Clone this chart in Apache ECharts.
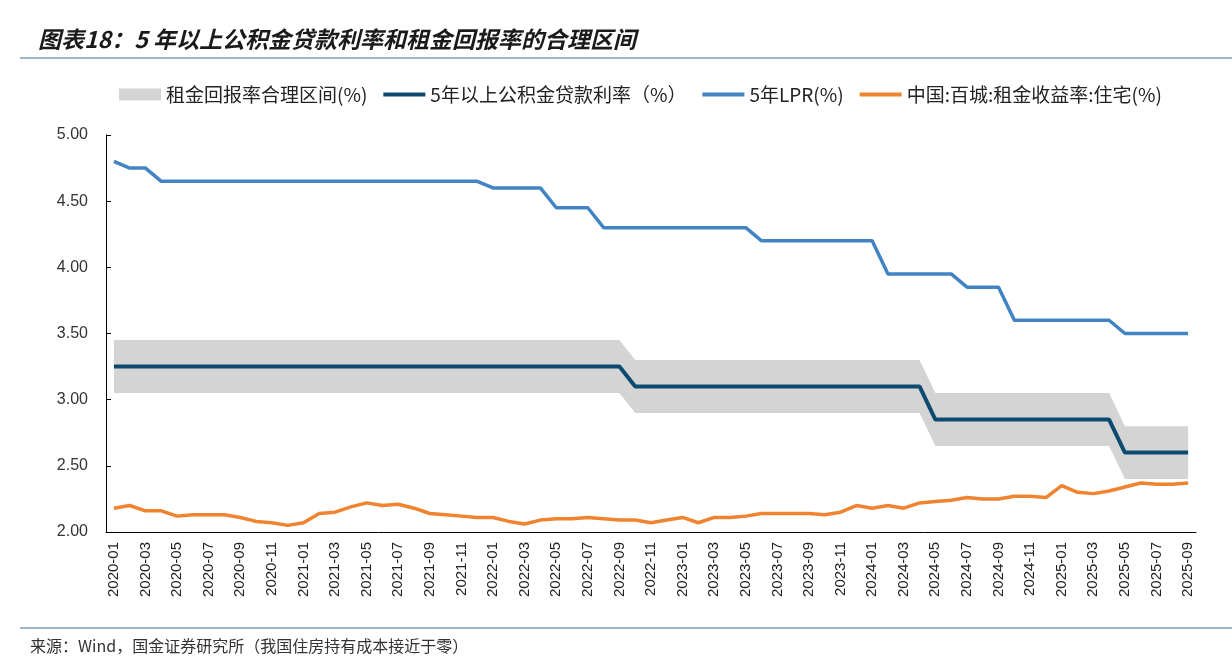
<!DOCTYPE html>
<html>
<head>
<meta charset="utf-8">
<script src="https://cdn.jsdelivr.net/npm/echarts@6/dist/echarts.min.js"></script>
<style>
html,body{margin:0;padding:0;background:#fff;}
#c{width:1232px;height:663px;}
</style>
</head>
<body>
<div id="c"></div>
<script>
const months = [];
for (let y = 2020; y <= 2025; y++) {
  for (let m = 1; m <= 12; m++) {
    if (y === 2025 && m > 9) break;
    months.push(y + '-' + (m < 10 ? '0' + m : m));
  }
}

const lpr5y = [
  4.80,4.75,4.75,4.65,4.65,4.65,4.65,4.65,4.65,4.65,4.65,4.65,
  4.65,4.65,4.65,4.65,4.65,4.65,4.65,4.65,4.65,4.65,4.65,4.65,
  4.60,4.60,4.60,4.60,4.45,4.45,4.45,4.30,4.30,4.30,4.30,4.30,
  4.30,4.30,4.30,4.30,4.30,4.20,4.20,4.20,4.20,4.20,4.20,4.20,
  4.20,3.95,3.95,3.95,3.95,3.95,3.85,3.85,3.85,3.60,3.60,3.60,
  3.60,3.60,3.60,3.60,3.50,3.50,3.50,3.50,3.50
];

const fundRate = [
  3.25,3.25,3.25,3.25,3.25,3.25,3.25,3.25,3.25,3.25,3.25,3.25,
  3.25,3.25,3.25,3.25,3.25,3.25,3.25,3.25,3.25,3.25,3.25,3.25,
  3.25,3.25,3.25,3.25,3.25,3.25,3.25,3.25,3.25,3.10,3.10,3.10,
  3.10,3.10,3.10,3.10,3.10,3.10,3.10,3.10,3.10,3.10,3.10,3.10,
  3.10,3.10,3.10,3.10,2.85,2.85,2.85,2.85,2.85,2.85,2.85,2.85,
  2.85,2.85,2.85,2.85,2.60,2.60,2.60,2.60,2.60
];

const bandLower = [
  3.05,3.05,3.05,3.05,3.05,3.05,3.05,3.05,3.05,3.05,3.05,3.05,
  3.05,3.05,3.05,3.05,3.05,3.05,3.05,3.05,3.05,3.05,3.05,3.05,
  3.05,3.05,3.05,3.05,3.05,3.05,3.05,3.05,3.05,2.90,2.90,2.90,
  2.90,2.90,2.90,2.90,2.90,2.90,2.90,2.90,2.90,2.90,2.90,2.90,
  2.90,2.90,2.90,2.90,2.65,2.65,2.65,2.65,2.65,2.65,2.65,2.65,
  2.65,2.65,2.65,2.65,2.40,2.40,2.40,2.40,2.40
];

const bandUpper = [
  3.45,3.45,3.45,3.45,3.45,3.45,3.45,3.45,3.45,3.45,3.45,3.45,
  3.45,3.45,3.45,3.45,3.45,3.45,3.45,3.45,3.45,3.45,3.45,3.45,
  3.45,3.45,3.45,3.45,3.45,3.45,3.45,3.45,3.45,3.30,3.30,3.30,
  3.30,3.30,3.30,3.30,3.30,3.30,3.30,3.30,3.30,3.30,3.30,3.30,
  3.30,3.30,3.30,3.30,3.05,3.05,3.05,3.05,3.05,3.05,3.05,3.05,
  3.05,3.05,3.05,3.05,2.80,2.80,2.80,2.80,2.80
];

const rentYield = [
  2.18,2.20,2.16,2.16,2.12,2.13,2.13,2.13,2.11,2.08,2.07,2.05,
  2.07,2.14,2.15,2.19,2.22,2.20,2.21,2.18,2.14,2.13,2.12,2.11,
  2.11,2.08,2.06,2.09,2.10,2.10,2.11,2.10,2.09,2.09,2.07,2.09,
  2.11,2.07,2.11,2.11,2.12,2.14,2.14,2.14,2.14,2.13,2.15,2.20,
  2.18,2.20,2.18,2.22,2.23,2.24,2.26,2.25,2.25,2.27,2.27,2.26,
  2.35,2.30,2.29,2.31,2.34,2.37,2.36,2.36,2.37
];

const yTicks = { min: 2, max: 5, interval: 0.5 };

const names = {
  band: '租金回报率合理区间(%)',
  fund: '5年以上公积金贷款利率（%）',
  lpr: '5年LPR(%)',
  rent: '中国:百城:租金收益率:住宅(%)'
};

const bandWidth = bandUpper.map((u, i) => +(u - bandLower[i]).toFixed(2));

const cjk = '"Noto Sans CJK SC", "Liberation Sans", sans-serif';
const lineIcon = 'path://M0,0h42v4h-42z';
const chart = echarts.init(document.getElementById('c'));
chart.setOption({
  animation: false,
  backgroundColor: '#fff',
  title: {
    text: '图表18：5 年以上公积金贷款利率和租金回报率的合理区间',
    left: 33, top: 23,
    textStyle: { fontFamily: cjk, fontSize: 23, fontWeight: 'bold', fontStyle: 'italic', color: '#1a1a1a' }
  },
  graphic: [
    { type: 'line', shape: { x1: 20, y1: 58, x2: 1232, y2: 58 }, style: { stroke: '#9db6cb', lineWidth: 2 } },
    { type: 'line', shape: { x1: 20, y1: 628, x2: 1232, y2: 628 }, style: { stroke: '#9db6cb', lineWidth: 2 } },
    { type: 'text', left: 30, top: 638, style: { text: '来源：Wind，国金证券研究所（我国住房持有成本接近于零）', font: '16px "Noto Sans CJK SC"', fill: '#333' } }
  ],
  legend: {
    left: 114, top: 80,
    itemWidth: 42, itemHeight: 12, itemGap: 16,
    textStyle: { fontFamily: cjk, fontSize: 19, color: '#222' },
    data: [
      { name: names.band, icon: 'rect' },
      { name: names.fund, icon: lineIcon },
      { name: names.lpr, icon: lineIcon },
      { name: names.rent, icon: lineIcon }
    ]
  },
  grid: { left: 106, right: 36, top: 135, bottom: 131, containLabel: false },
  xAxis: {
    type: 'category',
    data: months,
    boundaryGap: true,
    axisLine: { lineStyle: { color: '#000', width: 1 } },
    axisTick: { inside: true, interval: 1, length: 5, lineStyle: { color: '#000' } },
    axisLabel: { interval: 1, rotate: 90, fontFamily: '"Liberation Sans", Arial, sans-serif', fontSize: 15, color: '#222', margin: 10 },
    splitLine: { show: false }
  },
  yAxis: {
    type: 'value',
    min: yTicks.min, max: yTicks.max, interval: yTicks.interval,
    axisLine: { show: true, lineStyle: { color: '#000', width: 1 } },
    axisTick: { show: true, inside: true, length: 5, lineStyle: { color: '#000' } },
    axisLabel: { formatter: v => v.toFixed(2), fontFamily: '"Liberation Sans", Arial, sans-serif', fontSize: 16, color: '#333', margin: 18 },
    splitLine: { show: false }
  },
  series: [
    {
      name: 'bandBase', type: 'line', stack: 'band', data: bandLower,
      symbol: 'none', lineStyle: { width: 0, opacity: 0 }, silent: true, z: 1
    },
    {
      name: names.band, type: 'line', stack: 'band', data: bandWidth,
      symbol: 'none', lineStyle: { width: 0, opacity: 0 },
      itemStyle: { color: '#d4d4d4' },
      areaStyle: { color: '#d4d4d4', opacity: 1 }, z: 1
    },
    {
      name: names.fund, type: 'line', data: fundRate, symbol: 'none',
      itemStyle: { color: '#0d4a70' }, lineStyle: { color: '#0d4a70', width: 4 }, z: 3
    },
    {
      name: names.lpr, type: 'line', data: lpr5y, symbol: 'none',
      itemStyle: { color: '#4283c4' }, lineStyle: { color: '#4283c4', width: 3.5 }, z: 3
    },
    {
      name: names.rent, type: 'line', data: rentYield, symbol: 'none',
      itemStyle: { color: '#f0832f' }, lineStyle: { color: '#f0832f', width: 3.5 }, z: 3
    }
  ]
});
</script>
</body>
</html>
